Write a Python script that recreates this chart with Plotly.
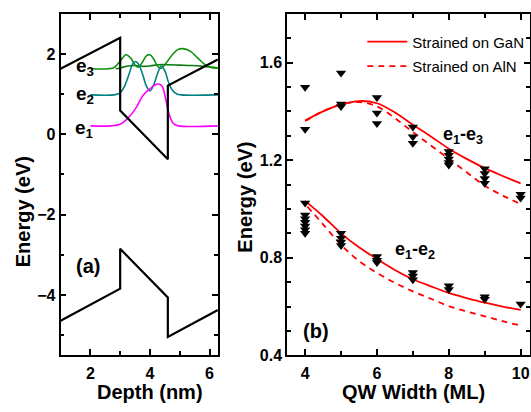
import plotly.graph_objects as go

W, H = 531, 412
FONT = "Liberation Sans, Arial, sans-serif"

# ---------------- Panel (a): band diagram ----------------
cb_x = [1.0, 3.0, 3.0, 4.6, 4.6, 6.28]
cb_y = [1.63, 2.40, 0.59, -0.62, 1.21, 1.86]
vb_x = [1.0, 3.0, 3.0, 4.6, 4.6, 6.28]
vb_y = [-4.64, -3.84, -2.85, -4.06, -5.04, -4.37]

e1_x = [2.0, 2.7, 3.0, 3.22, 3.5, 3.78, 4.0, 4.15, 4.3, 4.42, 4.52, 4.6, 4.7, 4.8, 4.95, 6.28]
e1_y = [0.21, 0.21, 0.25, 0.37, 0.62, 0.98, 1.13, 1.22, 1.25, 1.18, 0.90, 0.62, 0.38, 0.26, 0.21, 0.21]

e2_x = [2.0, 2.8, 3.0, 3.15, 3.3, 3.42, 3.52, 3.62, 3.75, 3.88, 4.0, 4.12, 4.25, 4.38, 4.5, 4.62, 4.75, 4.9, 5.05, 6.28]
e2_y = [0.98, 0.98, 1.03, 1.20, 1.50, 1.75, 1.81, 1.74, 1.50, 1.20, 1.08, 1.22, 1.50, 1.70, 1.58, 1.30, 1.10, 1.00, 0.98, 0.98]

e3_x = [2.0, 2.6, 2.8, 3.0, 3.19, 3.35, 3.5, 3.61, 3.75, 3.88, 4.0, 4.12, 4.25, 4.37, 4.55, 4.75, 4.92, 5.1, 5.35, 5.6, 5.85, 6.05, 6.28]
e3_y = [1.63, 1.63, 1.66, 1.82, 1.98, 1.90, 1.72, 1.67, 1.80, 1.95, 1.98, 1.88, 1.70, 1.64, 1.78, 1.98, 2.10, 2.13, 2.07, 1.90, 1.73, 1.66, 1.64]

e3b_x = [2.85, 3.0, 3.25, 3.5, 3.78, 4.0, 4.3, 4.6, 5.0, 5.4, 5.8, 6.05, 6.28]
e3b_y = [1.63, 1.65, 1.70, 1.71, 1.69, 1.70, 1.73, 1.73, 1.72, 1.71, 1.69, 1.67, 1.65]

# ---------------- Panel (b): transition energies ----------------
w_line = [4.0, 4.5, 5.0, 5.5, 6.0, 6.5, 7.0, 7.5, 8.0, 8.5, 9.0, 9.5, 10.0]
gan_e13 = [1.362, 1.400, 1.427, 1.442, 1.433, 1.395, 1.345, 1.297, 1.247, 1.205, 1.167, 1.135, 1.105]
aln_e13 = [1.360, 1.400, 1.428, 1.438, 1.420, 1.372, 1.315, 1.260, 1.205, 1.150, 1.095, 1.055, 1.020]
gan_e12 = [1.033, 0.970, 0.900, 0.843, 0.795, 0.750, 0.712, 0.683, 0.656, 0.635, 0.616, 0.600, 0.586]
w_aln12 = [4.06, 4.5, 5.0, 5.5, 6.0, 6.5, 7.0, 7.5, 8.0, 8.5, 9.0, 9.5, 10.0]
aln_e12 = [1.010, 0.937, 0.853, 0.787, 0.738, 0.697, 0.662, 0.632, 0.602, 0.580, 0.560, 0.540, 0.522]

exp13_w = [4, 4, 5, 5, 5, 6, 6, 6, 7, 7, 7, 8, 8, 8, 8, 8, 9, 9, 9, 9, 10, 10]
exp13_e = [1.499, 1.326, 1.557, 1.420, 1.430, 1.457, 1.393, 1.350, 1.336, 1.296, 1.269,
           1.235, 1.220, 1.205, 1.190, 1.180, 1.165, 1.145, 1.125, 1.105, 1.060, 1.045]
exp12_w = [4, 4, 4, 4, 4, 4, 4, 5, 5, 5, 5, 6, 6, 6, 7, 7, 7, 8, 8, 9, 9, 10]
exp12_e = [1.024, 0.975, 0.960, 0.945, 0.930, 0.915, 0.900, 0.900, 0.880, 0.865, 0.850,
           0.805, 0.790, 0.780, 0.740, 0.725, 0.710, 0.685, 0.670, 0.640, 0.630, 0.610]

RED = "#ff0000"

fig = go.Figure()

# panel (a) traces
for xs, ys, col in [(e3b_x, e3b_y, "#0a7a0a"), (e3_x, e3_y, "#109010"),
                    (e2_x, e2_y, "#008080"), (e1_x, e1_y, "#ff00ff")]:
    fig.add_trace(go.Scatter(x=xs, y=ys, mode="lines", line=dict(color=col, width=1.6, shape="spline"),
                             xaxis="x", yaxis="y", showlegend=False))
for xs, ys in [(cb_x, cb_y), (vb_x, vb_y)]:
    fig.add_trace(go.Scatter(x=xs, y=ys, mode="lines", line=dict(color="black", width=2.2),
                             xaxis="x", yaxis="y", showlegend=False))

# panel (b) traces
fig.add_trace(go.Scatter(x=w_line, y=gan_e13, mode="lines", line=dict(color=RED, width=1.8, shape="spline"),
                         xaxis="x2", yaxis="y2", name="Strained on GaN", legendgroup="gan", showlegend=True))
fig.add_trace(go.Scatter(x=w_line, y=gan_e12, mode="lines", line=dict(color=RED, width=1.8, shape="spline"),
                         xaxis="x2", yaxis="y2", name="Strained on GaN", legendgroup="gan", showlegend=False))
fig.add_trace(go.Scatter(x=w_line, y=aln_e13, mode="lines", line=dict(color=RED, width=1.8, dash="6px,5px", shape="spline"),
                         xaxis="x2", yaxis="y2", name="Strained on AlN", legendgroup="aln", showlegend=True))
fig.add_trace(go.Scatter(x=w_aln12, y=aln_e12, mode="lines", line=dict(color=RED, width=1.8, dash="6px,5px", shape="spline"),
                         xaxis="x2", yaxis="y2", name="Strained on AlN", legendgroup="aln", showlegend=False))
for xs, ys in [(exp13_w, exp13_e), (exp12_w, exp12_e)]:
    fig.add_trace(go.Scatter(x=xs, y=ys, mode="markers",
                             marker=dict(symbol="triangle-down", size=9, color="black"),
                             xaxis="x2", yaxis="y2", showlegend=False))

def px(x):
    return x / W

def py(y):
    return 1 - y / H

ydom = [py(363.3), py(14)]
tickfont = dict(family=FONT, size=16, color="black", weight="bold")
common = dict(showline=True, linecolor="black", linewidth=1.8, mirror="allticks", ticks="inside",
              ticklen=6, tickwidth=1.5, tickcolor="black", showgrid=False, zeroline=False,
              tickfont=tickfont)

fig.update_layout(
    width=W, height=H, margin=dict(l=0, r=0, t=0, b=0),
    paper_bgcolor="white", plot_bgcolor="white",
    font=dict(family=FONT, color="black"),
    xaxis=dict(domain=[px(60.7), px(218.3)], range=[1, 6.28], tickvals=[2, 4, 6], ticklabelstandoff=3,
               minor=dict(tickvals=[1, 3, 5], ticklen=4, tickwidth=1.5, tickcolor="black", ticks="inside"),
               anchor="y", **common),
    yaxis=dict(domain=ydom, range=[-5.5, 3], tickvals=[-4, -2, 0, 2],
               minor=dict(tickvals=[-5, -3, -1, 1], ticklen=4, tickwidth=1.5, tickcolor="black", ticks="inside"),
               anchor="x", **common),
    xaxis2=dict(domain=[px(287.7), px(530.6)], range=[3.5, 10.25], tickvals=[4, 6, 8, 10], ticklabelstandoff=3,
                minor=dict(tickvals=[5, 7, 9], ticklen=4, tickwidth=1.5, tickcolor="black", ticks="inside"),
                anchor="y2", **common),
    yaxis2=dict(domain=ydom, range=[0.4, 1.8], tickvals=[0.4, 0.8, 1.2, 1.6], tickformat=".1f",
                minor=dict(tickvals=[0.5, 0.6, 0.7, 0.9, 1.0, 1.1, 1.3, 1.4, 1.5, 1.7], ticklen=4,
                           tickwidth=1.5, tickcolor="black", ticks="inside"),
                anchor="x2", **common),
    legend=dict(x=px(363), y=py(26), xanchor="left", yanchor="top", bgcolor="rgba(0,0,0,0)",
                font=dict(family=FONT, size=15, color="black"), itemwidth=40, tracegroupgap=2),
)

ann = []
def txt(text, x, y, size, rot=0, xref="paper", yref="paper", xanchor="center", yanchor="middle"):
    ann.append(dict(text=text, x=x, y=y, xref=xref, yref=yref, showarrow=False, textangle=rot,
                    xanchor=xanchor, yanchor=yanchor,
                    font=dict(family=FONT, size=size, color="black", weight="bold")))

txt("Energy (eV)", px(23), py(216), 20, rot=-90)
txt("Energy (eV)", px(246), py(201.5), 20, rot=-90)
txt("Depth (nm)", px(150.5), py(401), 20)
txt("QW Width (ML)", px(414), py(401), 20)

txt("e<sub>3</sub>", 2.2, 1.68, 19, xref="x", yref="y", xanchor="right")
txt("e<sub>2</sub>", 2.2, 0.98, 19, xref="x", yref="y", xanchor="right")
txt("e<sub>1</sub>", 2.2, 0.12, 19, xref="x", yref="y", xanchor="right")
txt("(a)", 1.92, -3.28, 20, xref="x", yref="y")

txt("e<sub>1</sub>-e<sub>3</sub>", 8.4, 1.30, 18, xref="x2", yref="y2")
txt("e<sub>1</sub>-e<sub>2</sub>", 7.05, 0.83, 18, xref="x2", yref="y2")
txt("(b)", 4.29, 0.50, 20, xref="x2", yref="y2")

fig.update_layout(annotations=ann)

fig.write_html("out.html", config={"displayModeBar": False},
               post_script="document.body.style.margin='0';document.body.style.overflow='hidden';")
